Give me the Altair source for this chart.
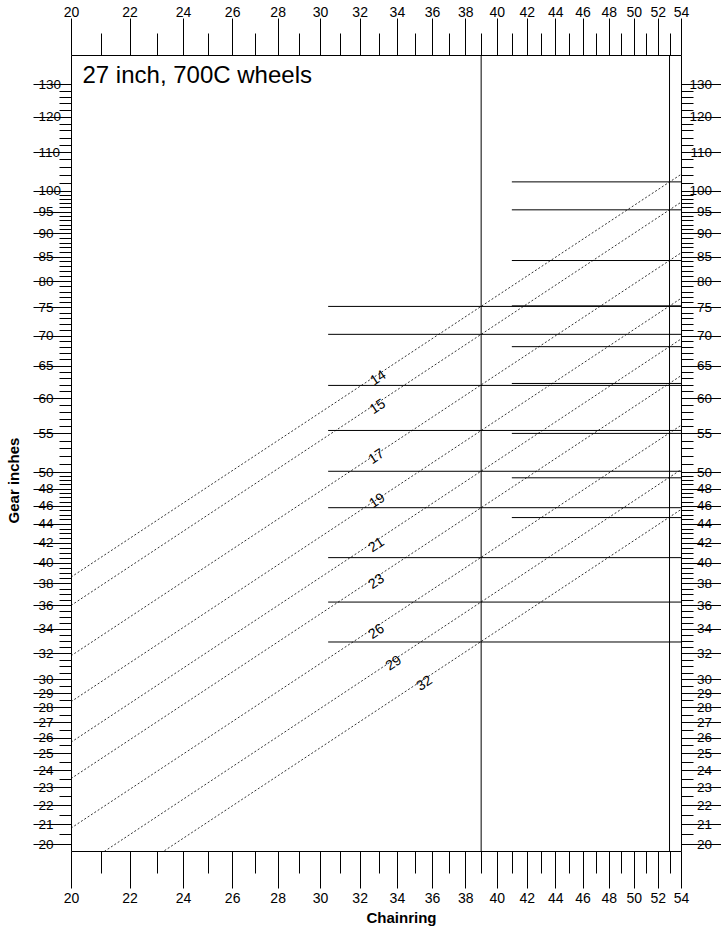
import altair as alt
import pandas as pd

# ---- data ----
cogs = [14, 15, 17, 19, 21, 23, 26, 29, 32]
gear_at_20 = [38.6, 36.0, 31.8, 28.4, 25.7, 23.5, 20.8, 18.6, 16.9]
gear_at_54 = [104.1, 97.2, 85.8, 76.7, 69.4, 63.4, 56.1, 50.3, 45.6]
chainrings = [39, 53]
gear_ring_39 = [75.2, 70.2, 61.9, 55.4, 50.1, 45.8, 40.5, 36.3, 32.9]
gear_ring_53 = [102.2, 95.4, 84.2, 75.3, 68.1, 62.2, 55.0, 49.3, 44.7]
hline_start = [30.4, 41.0]
hline_end = 54
label_ring = [32.99, 32.96, 32.89, 32.93, 32.89, 32.89, 32.89, 33.83, 35.56]
label_gear = [63.03, 58.72, 51.92, 46.57, 41.77, 38.16, 33.74, 31.21, 29.70]
title_text = "27 inch, 700C wheels"

x_major = list(range(20, 55, 2))
x_minor = list(range(21, 54, 2))
y_major = list(range(20, 31)) + list(range(32, 51, 2)) + list(range(55, 101, 5)) + [110, 120, 130]
y_minor = ([v / 2 for v in range(41, 100) if (v / 2) not in y_major]
           + [v for v in range(51, 100) if v not in y_major]
           + [v for v in range(102, 130, 2) if v not in y_major])

X_DOMAIN = [20, 54]
Y_DOMAIN = [19.66, 139.7]
FONT = "Liberation Sans"

# ---- tables ----
lines_df = pd.DataFrame({
    "cog": cogs * 2,
    "ring": [20] * len(cogs) + [54] * len(cogs),
    "gear": gear_at_20 + gear_at_54,
})
hr_df = pd.DataFrame({
    "x0": [hline_start[0]] * len(cogs) + [hline_start[1]] * len(cogs),
    "x1": [hline_end] * (2 * len(cogs)),
    "gear": gear_ring_39 + gear_ring_53,
})
lab_df = pd.DataFrame({"cog": [str(c) for c in cogs], "ring": label_ring, "gear": label_gear})
vr_df = pd.DataFrame({"ring": chainrings})
title_df = pd.DataFrame({"t": [title_text]})

xs = alt.Scale(type="log", domain=X_DOMAIN, nice=False)
ys = alt.Scale(type="log", domain=Y_DOMAIN, nice=False)

common = dict(domain=False, grid=False, tickColor="black", labelColor="black",
              labelFont=FONT, labelOverlap=False, labelFlush=False, labelBound=False,
              tickWidth=1, labelExpr="datum.value + ''")

ax_top_major = alt.Axis(orient="top", values=x_major, tickSize=37, labelFontSize=14,
                        labelPadding=-1.5, labelBaseline="bottom", title=None, **common)
ax_top_minor = alt.Axis(orient="top", values=x_minor, tickSize=22, labels=False, title=None, **common)
ax_bot_major = alt.Axis(orient="bottom", values=x_major, tickSize=37, labelFontSize=14,
                        labelPadding=3, labelBaseline="top",
                        title="Chainring", titleFont=FONT, titleFontSize=15, titleFontWeight="bold",
                        titleColor="black", titleX=330, titleY=59, titleBaseline="top",
                        titleAlign="center", **common)
ax_bot_minor = alt.Axis(orient="bottom", values=x_minor, tickSize=22, labels=False, title=None, **common)

ax_left_major = alt.Axis(orient="left", values=y_major, tickSize=38, labelFontSize=13.5,
                         labelAlign="left", labelPadding=-5, labelBaseline="middle",
                         title="Gear inches", titleFont=FONT, titleFontSize=15, titleFontWeight="bold",
                         titleColor="black", titleX=-58, titleY=425, titleAngle=270,
                         titleBaseline="middle", titleAlign="center", **common)
ax_left_minor = alt.Axis(orient="left", values=y_minor, tickSize=12, labels=False, title=None, **common)
ax_right_major = alt.Axis(orient="right", values=y_major, tickSize=40, labelFontSize=13.5,
                          labelAlign="right", labelPadding=-9.5, labelBaseline="middle",
                          title=None, **common)
ax_right_minor = alt.Axis(orient="right", values=y_minor, tickSize=12, labels=False, title=None, **common)

diag = alt.Chart(lines_df).mark_line(clip=True, color="black", strokeWidth=0.8, strokeDash=[2, 2]).encode(
    x=alt.X("ring:Q", scale=xs, axis=ax_top_major),
    y=alt.Y("gear:Q", scale=ys, axis=ax_left_major),
    detail="cog:N",
)

hr = alt.Chart(hr_df).mark_rule(color="black", strokeWidth=1).encode(
    x=alt.X("x0:Q", scale=xs, axis=ax_bot_major),
    x2="x1:Q",
    y=alt.Y("gear:Q", scale=ys, axis=ax_right_major),
)

labels = alt.Chart(lab_df).mark_text(angle=326.5, fontSize=14, font=FONT, color="black",
                                     align="center", baseline="middle").encode(
    x=alt.X("ring:Q", scale=xs, axis=ax_top_minor),
    y=alt.Y("gear:Q", scale=ys, axis=ax_left_minor),
    text="cog:N",
)

ghost = alt.Chart(lab_df).mark_point(opacity=0).encode(
    x=alt.X("ring:Q", scale=xs, axis=ax_bot_minor),
    y=alt.Y("gear:Q", scale=ys, axis=ax_right_minor),
)

vr = alt.Chart(vr_df).mark_rule(color="black", strokeWidth=1).encode(
    x=alt.X("ring:Q", scale=xs, axis=None),
)

title = alt.Chart(title_df).mark_text(align="left", baseline="alphabetic", fontSize=24,
                                      font=FONT, color="black").encode(
    text="t:N", x=alt.value(11.5), y=alt.value(28.3),
)

chart = alt.layer(diag, hr, vr, labels, ghost, title).resolve_axis(
    x="independent", y="independent"
).properties(
    width=610, height=796,
    padding={"left": 71, "top": 55, "right": 40, "bottom": 82},
    autosize=alt.AutoSizeParams(type="none"),
).configure_view(stroke="black", strokeWidth=1)

chart.save("out.html", embed_options={"renderer": "svg", "actions": False})
